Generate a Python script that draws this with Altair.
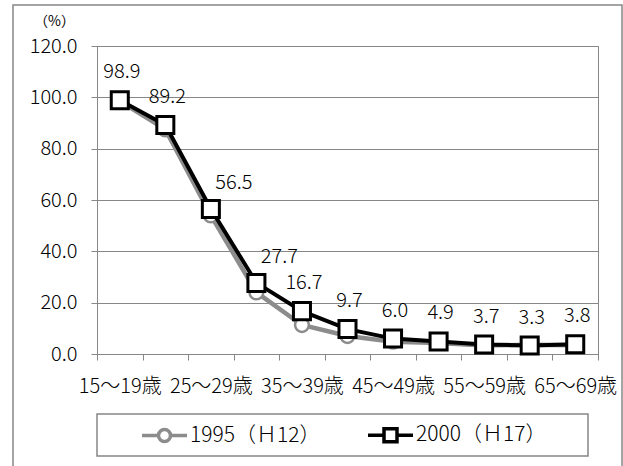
import json
import altair as alt
import pandas as pd

# ---- data ----
categories = ["15〜19歳", "20〜24歳", "25〜29歳", "30〜34歳", "35〜39歳", "40〜44歳",
              "45〜49歳", "50〜54歳", "55〜59歳", "60〜64歳", "65〜69歳"]
series_names = ["1995（Ｈ12）", "2000（Ｈ17）"]
values_1995 = [98.5, 87.5, 54.0, 24.0, 11.3, 7.0, 4.8, 4.3, 3.3, 3.6, 3.4]
values_2000 = [98.9, 89.2, 56.5, 27.7, 16.7, 9.7, 6.0, 4.9, 3.7, 3.3, 3.8]
y_ticks = [0, 20, 40, 60, 80, 100, 120]
shifted_label_cats = ["25〜29歳", "30〜34歳"]

rows = []
for s, vals in zip(series_names, [values_1995, values_2000]):
    for i, (c, v) in enumerate(zip(categories, vals)):
        rows.append({"series": s, "cat": c, "idx": i, "value": v})
df = pd.DataFrame(rows)

FONT = "Noto Sans CJK JP"
FW = 300
FS = 20
GRAY = "#878787"
LINE_GRAY = "#8c8c8c"
W, H = 501, 308
band = W / len(categories)

cats_js = json.dumps(categories, ensure_ascii=False)
x_label_expr = (f"((datum.value + 0.5) % 2 == 0 && datum.value < {len(categories) - 1}) "
                f"? {cats_js}[datum.value + 0.5] : ''")

x_enc = alt.X(
    "idx:Q",
    scale=alt.Scale(domain=[-0.5, len(categories) - 0.5], nice=False, zero=False),
    axis=alt.Axis(
        title=None,
        values=[i - 0.5 for i in range(len(categories) + 1)],
        labelExpr=x_label_expr,
        labelOffset=band / 2,
        labelFlush=False,
        labelOverlap=False,
        labelBound=False,
        grid=False,
        tickSize=6,
        tickColor=GRAY,
        domainColor=GRAY,
        labelPadding=16,
        labelFontSize=FS,
        labelFont=FONT,
        labelFontWeight=FW,
        labelColor="#000000",
    ),
)
y_enc = alt.Y(
    "value:Q",
    scale=alt.Scale(domain=[0, 120], nice=False),
    axis=alt.Axis(
        values=y_ticks,
        format=".1f",
        title="（%）",
        titleAngle=0,
        titleX=-43,
        titleY=-25,
        titleAlign="center",
        titleBaseline="middle",
        titleFont=FONT,
        titleFontSize=14,
        titleFontWeight="normal",
        titleColor="#000000",
        grid=True,
        gridColor=GRAY,
        tickSize=6,
        tickColor=GRAY,
        domainColor=GRAY,
        labelPadding=14,
        labelFontSize=FS,
        labelFont=FONT,
        labelFontWeight=FW,
        labelColor="#000000",
    ),
)

base = alt.Chart(df)
s95 = base.transform_filter(alt.datum.series == series_names[0])
s00 = base.transform_filter(alt.datum.series == series_names[1])

line95 = s95.mark_line(color=LINE_GRAY, strokeWidth=4.5).encode(x=x_enc, y=y_enc)
pts95 = s95.mark_point(shape="circle", filled=True, fill="white", stroke=LINE_GRAY,
                       strokeWidth=2.5, size=190, opacity=1).encode(x=x_enc, y=y_enc)
line00 = s00.mark_line(color="#000000", strokeWidth=4).encode(x=x_enc, y=y_enc)
pts00 = s00.mark_point(shape="square", filled=True, fill="white", stroke="#000000",
                       strokeWidth=3, size=290, opacity=1).encode(x=x_enc, y=y_enc)

lab_normal = s00.transform_filter(
    ~alt.FieldOneOfPredicate(field="cat", oneOf=shifted_label_cats)
).mark_text(font=FONT, fontSize=FS, fontWeight=FW, color="#000000", dx=2, dy=-28,
            baseline="middle").encode(
    x=x_enc, y=y_enc, text=alt.Text("value:Q", format=".1f"))
lab_shift = s00.transform_filter(
    alt.FieldOneOfPredicate(field="cat", oneOf=shifted_label_cats)
).mark_text(font=FONT, fontSize=FS, fontWeight=FW, color="#000000", dx=23, dy=-26,
            baseline="middle").encode(
    x=x_enc, y=y_enc, text=alt.Text("value:Q", format=".1f"))

# legend symbols: line with marker
circle_path = ("M-2.25,0L-0.6,0M0.6,0L2.25,0"
               "M-0.6,0A0.6,0.6,0,1,0,0.6,0A0.6,0.6,0,1,0,-0.6,0Z")
square_path = ("M-2.25,0L-0.65,0M0.65,0L2.25,0"
               "M-0.65,-0.65L0.65,-0.65L0.65,0.65L-0.65,0.65Z")

legend = alt.Legend(
    title=None,
    orient="none",
    legendX=0,
    legendY=368,
    direction="horizontal",
    padding=9,
    symbolSize=400,
    symbolStrokeWidth=3.5,
    symbolOffset=46.5,
    labelOffset=13.5,
    columnPadding=11,
    labelFont=FONT,
    labelFontSize=21,
    labelFontWeight=FW,
    labelColor="#000000",
)
legend_layer = base.transform_filter("false").mark_point(
    filled=False, opacity=1, strokeWidth=3.5
).encode(
    x=x_enc,
    y=y_enc,
    color=alt.Color("series:N", scale=alt.Scale(domain=series_names, range=[LINE_GRAY, "#000000"]),
                    legend=legend),
    shape=alt.Shape("series:N", scale=alt.Scale(domain=series_names, range=[circle_path, square_path]),
                    legend=legend),
)

# decorative frames (chart border and legend box)
frame = alt.Chart(pd.DataFrame({"k": [0]})).mark_rect(
    fillOpacity=0, stroke=GRAY, strokeWidth=1.5
).encode(x=alt.value(-84), x2=alt.value(525), y=alt.value(-41), y2=alt.value(440))
legend_box = alt.Chart(pd.DataFrame({"k": [0]})).mark_rect(
    fill="white", stroke=GRAY, strokeWidth=1.5
).encode(x=alt.value(0), x2=alt.value(491), y=alt.value(368), y2=alt.value(410))

chart = alt.layer(
    frame, line95, pts95, line00, pts00, lab_normal, lab_shift, legend_box, legend_layer
).properties(
    width=W,
    height=H,
    autosize="none",
    padding={"left": 97, "top": 46, "right": 25, "bottom": 112},
    background="white",
).configure(font=FONT).configure_view(stroke=GRAY, strokeWidth=1)

chart.save("out.html", embed_options={"renderer": "svg", "actions": False})
